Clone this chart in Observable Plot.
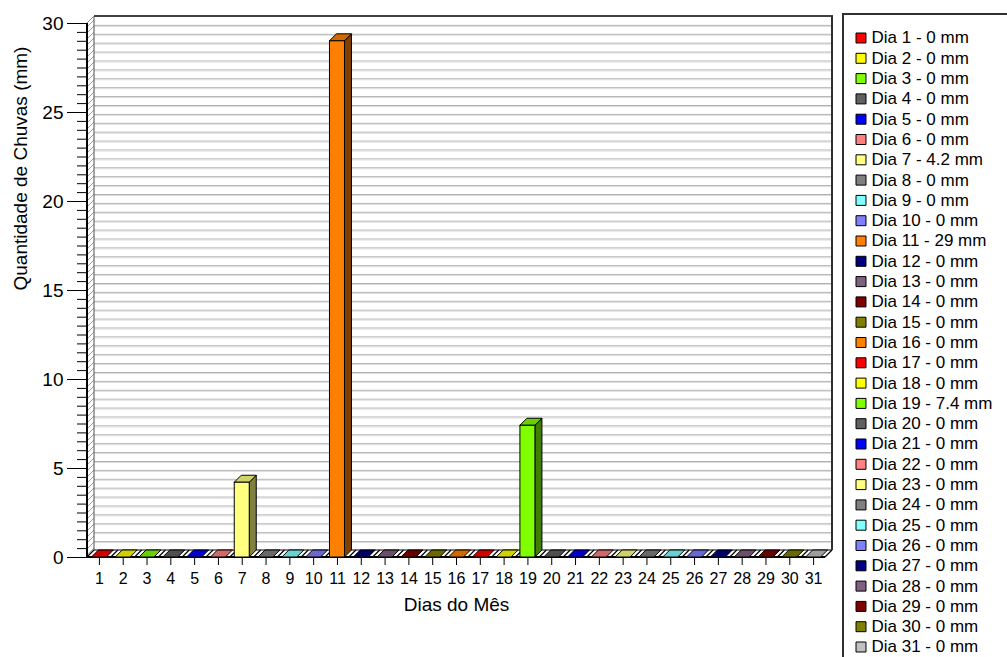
<!DOCTYPE html>
<html>
<head>
<meta charset="utf-8">
<script src="https://cdn.jsdelivr.net/npm/d3@7"></script>
<script src="https://cdn.jsdelivr.net/npm/@observablehq/plot@0.6"></script>
<style>
  html, body { margin: 0; padding: 0; background: #fff; }
  #wrap { position: relative; width: 1007px; height: 657px; overflow: hidden; background: #fff;
          font-family: "Liberation Sans", Arial, sans-serif; }
  #chart { position: absolute; left: 0; top: 0; }
  #legend { position: absolute; left: 842px; top: 13px; width: 180px; height: 700px;
            border-top: 2px solid #303030; border-left: 2px solid #303030; background: #fff; }
  #legend svg, #chart svg { display: block; }
</style>
</head>
<body>
<div id="wrap">
  <div id="chart"></div>
  <div id="legend"></div>
</div>
<script>
// ---- data ----
const days = [1,2,3,4,5,6,7,8,9,10,11,12,13,14,15,16,17,18,19,20,21,22,23,24,25,26,27,28,29,30,31];
const rain = [0,0,0,0,0,0,4.2,0,0,0,29,0,0,0,0,0,0,0,7.4,0,0,0,0,0,0,0,0,0,0,0,0];
const colors = ["#FF0000","#FFFF00","#80FF00","#606060","#0000FF","#FF8080","#FFFF80","#808080",
                "#80FFFF","#8080FF","#FF8000","#000080","#806080","#800000","#808000","#FF8000",
                "#FF0000","#FFFF00","#80FF00","#606060","#0000FF","#FF8080","#FFFF80","#808080",
                "#80FFFF","#8080FF","#000080","#806080","#800000","#808000","#C0C0C0"];
const yMajorTicks = [0,5,10,15,20,25,30];
const yMinorTicks = d3.range(0, 30.001, 0.5);
const xTitle = "Dias do Mês";
const yTitle = "Quantidade de Chuvas (mm)";

const table = days.map((d, i) => ({day: d, value: rain[i], color: colors[i]}));

// 3D depth (style)
const DX = 7, DY = 7;
function shade(c, k) { const o = d3.rgb(c); return d3.rgb(o.r * k, o.g * k, o.b * k).formatHex(); }

// left wall and floor
function walls(index, s, v, dim) {
  const xl = dim.marginLeft, xr = dim.width - dim.marginRight;
  const y0 = s.y(0), yt = s.y(30);
  const g = d3.create("svg:g");
  const defs = g.append("defs");
  const pat = defs.append("pattern").attr("id", "hatch").attr("patternUnits", "userSpaceOnUse")
    .attr("width", 6).attr("height", 6);
  pat.append("rect").attr("width", 6).attr("height", 6).attr("fill", "#fff");
  pat.append("path").attr("d", "M0,6L6,0M-1,1L1,-1M5,7L7,5").attr("stroke", "#a0a0a0").attr("stroke-width", 1);
  g.append("path")
    .attr("d", `M${xl},${y0}L${xl},${yt}L${xl + DX},${yt - DY}L${xl + DX},${y0 - DY}Z`)
    .attr("fill", "url(#hatch)");
  g.append("path")
    .attr("d", `M${xl},${y0}L${xr},${y0}L${xr + DX},${y0 - DY}L${xl + DX},${y0 - DY}Z`)
    .attr("fill", "#fff").attr("stroke", "#000").attr("stroke-width", 1);
  // cell separators on the floor, at band boundaries
  const step = s.x.step(), bw = s.x.bandwidth();
  const bounds = days.map(d => s.x(d) + bw / 2 - step / 2);
  bounds.push(s.x(days[days.length - 1]) + bw / 2 + step / 2);
  bounds.forEach(b => {
    g.append("line").attr("x1", b).attr("y1", y0).attr("x2", b + DX).attr("y2", y0 - DY)
      .attr("stroke", "#000").attr("stroke-width", 1.2);
  });
  return g.node();
}

// frame borders & axis lines
function borders(index, s, v, dim) {
  const xl = dim.marginLeft, xr = dim.width - dim.marginRight;
  const y0 = s.y(0), yt = s.y(30);
  const g = d3.create("svg:g").attr("fill", "none");
  const L = (x1, y1, x2, y2, c, w) => g.append("line").attr("x1", x1).attr("y1", y1)
      .attr("x2", x2).attr("y2", y2).attr("stroke", c).attr("stroke-width", w);
  L(xl + DX, yt - DY, xr + DX + 1, yt - DY, "#404040", 2);
  L(xr + DX, yt - DY, xr + DX, y0 - DY, "#303030", 2);
  L(xl + DX, yt - DY, xl + DX, y0 - DY, "#505050", 1);
  L(xl, yt, xl + DX, yt - DY, "#909090", 1);
  L(xr, y0, xr + DX, y0 - DY, "#000", 1);
  L(xl, yt, xl, y0, "#000", 2);
  L(xl, y0, xr, y0, "#000", 2);
  return g.node();
}

// 3D faces: tops (and flat patches for zero values) and right sides
function bars3d(index, s) {
  const g = d3.create("svg:g").attr("stroke", "#000").attr("stroke-width", 1).attr("stroke-linejoin", "miter");
  const bw = s.x.bandwidth();
  const yb = s.y(0);
  table.forEach(d => {
    const x0 = s.x(d.day), x1 = x0 + bw, yv = s.y(d.value);
    if (d.value > 0) {
      g.append("path")
        .attr("d", `M${x1},${yb}L${x1},${yv}L${x1 + DX},${yv - DY}L${x1 + DX},${yb - DY}Z`)
        .attr("fill", shade(d.color, 0.5));
    }
    g.append("path")
      .attr("d", `M${x0},${yv}L${x1},${yv}L${x1 + DX},${yv - DY}L${x0 + DX},${yv - DY}Z`)
      .attr("fill", shade(d.color, 0.82));
  });
  return g.node();
}

const chart = Plot.plot({
  width: 840,
  height: 657,
  marginLeft: 87,
  marginRight: 15,
  marginTop: 23,
  marginBottom: 100,
  style: {fontFamily: "'Liberation Sans', Arial, sans-serif", background: "#fff", color: "#000"},
  x: {type: "band", domain: days, paddingInner: 0.37, paddingOuter: 0.185, round: false},
  y: {domain: [0, 30]},
  color: {type: "identity"},
  marks: [
    walls,
    Plot.ruleY(yMinorTicks.filter(t => t > 0 && t < 30), {dx: DX, dy: -DY, stroke: "#b0b0b0", strokeWidth: 1}),
    Plot.ruleY(yMinorTicks.filter(t => t > 0 && t < 30), {dx: DX, dy: -DY + 1, stroke: "#dcdcdc", strokeWidth: 1}),
    borders,
    bars3d,
    Plot.barY(table.filter(d => d.value > 0), {x: "day", y: "value", fill: "color", stroke: "#000", strokeWidth: 1}),
    Plot.axisY({ticks: yMinorTicks, tickSize: 10, tickFormat: () => "", label: null, stroke: "#000"}),
    Plot.axisY({ticks: yMajorTicks, tickSize: 20, tickPadding: 4, fontSize: 19, label: null, stroke: "#000", fill: "#000"}),
    Plot.axisX({ticks: days, tickSize: 8, tickPadding: 7, fontSize: 16, label: null, stroke: "#000", fill: "#000"}),
    Plot.text([xTitle], {text: d => d, frameAnchor: "bottom", dy: 53, fontSize: 19, fill: "#000"}),
    Plot.text([yTitle], {text: d => d, frameAnchor: "left", rotate: -90, dx: -67, fontSize: 19, fill: "#000"})
  ]
});
document.getElementById("chart").appendChild(chart);

const legend = Plot.plot({
  width: 165,
  height: 660,
  marginTop: 12.35,
  marginBottom: 18.35,
  marginLeft: 0,
  marginRight: 0,
  style: {fontFamily: "'Liberation Sans', Arial, sans-serif", background: "#fff", color: "#000"},
  y: {type: "band", domain: days, padding: 0, round: false, axis: null},
  color: {type: "identity"},
  marks: [
    Plot.dot(table, {y: "day", frameAnchor: "left", dx: 16.5, symbol: "square", r: 5.64,
                     fill: "color", stroke: "#000", strokeWidth: 1}),
    Plot.text(table, {y: "day", frameAnchor: "left", dx: 27, textAnchor: "start",
                      text: d => `Dia ${d.day} - ${d.value} mm`, fontSize: 17, fill: "#000"})
  ]
});
document.getElementById("legend").appendChild(legend);
</script>
</body>
</html>
